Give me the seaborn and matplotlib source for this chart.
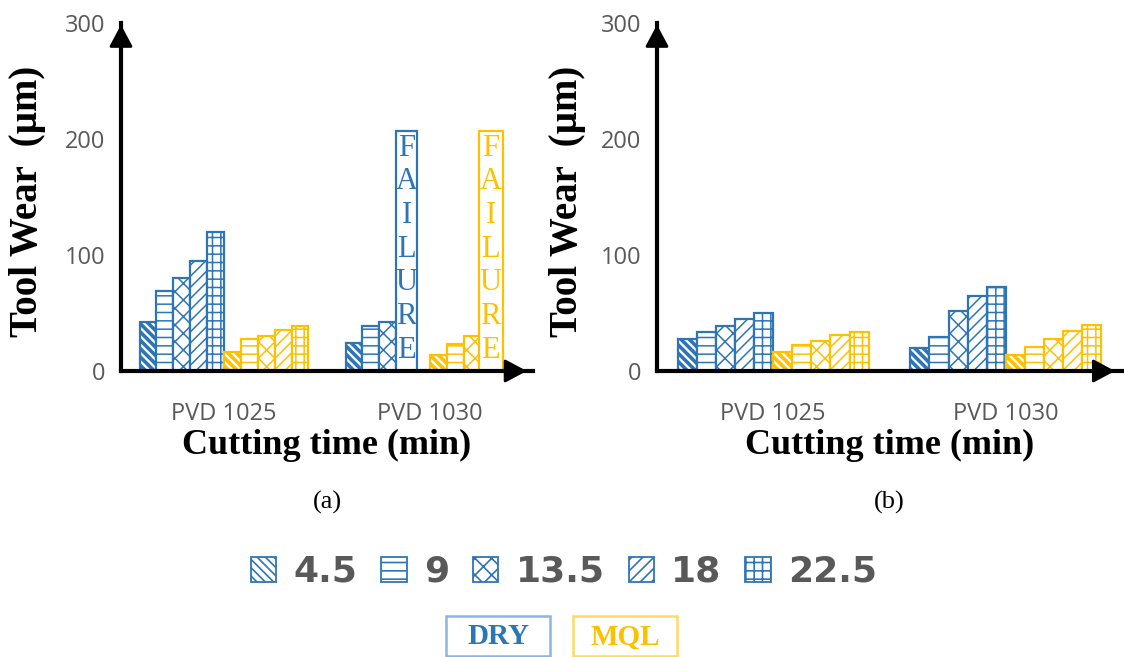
import numpy as np
import pandas as pd
import matplotlib
matplotlib.use("Agg")
import matplotlib.pyplot as plt
import seaborn as sns
from matplotlib.patches import Rectangle

# ---------------- data ----------------
tools = ["PVD 1025", "PVD 1030"]
times = ["4.5", "9", "13.5", "18", "22.5"]
conditions = ["DRY", "MQL"]

# panel (a)
a_dry_1025 = [42, 69, 80, 95, 120]
a_mql_1025 = [16, 28, 30, 35, 39]
a_dry_1030 = [24, 39, 42, 207, np.nan]
a_mql_1030 = [14, 23, 30, 207, np.nan]
a_failures = [("PVD 1030", "DRY", "18"), ("PVD 1030", "MQL", "18")]

# panel (b)
b_dry_1025 = [28, 34, 38.5, 45, 50]
b_mql_1025 = [16, 22.5, 26, 31, 34]
b_dry_1030 = [20, 29, 52, 65, 72]
b_mql_1030 = [14, 21, 27.5, 34.5, 40]
b_failures = []

failure_text = "FAILURE"
yticks = [0, 100, 200, 300]

BLUE = "#2E75B6"
YELLOW = "#FFC000"
GRAY = "#595959"
hatches = ["\\\\\\\\", "--", "xx", "///", "++"]

hue_order = [f"{c} {t}" for c in conditions for t in times]
palette = {h: (BLUE if h.startswith("DRY") else YELLOW) for h in hue_order}


def make_df(dry_1025, mql_1025, dry_1030, mql_1030):
    rows = []
    for tool, cond, vals in [("PVD 1025", "DRY", dry_1025), ("PVD 1025", "MQL", mql_1025),
                             ("PVD 1030", "DRY", dry_1030), ("PVD 1030", "MQL", mql_1030)]:
        for t, v in zip(times, vals):
            if not np.isnan(v):
                rows.append({"tool": tool, "series": f"{cond} {t}", "cond": cond,
                             "time": t, "wear": v})
    return pd.DataFrame(rows)


df_a = make_df(a_dry_1025, a_mql_1025, a_dry_1030, a_mql_1030)
df_b = make_df(b_dry_1025, b_mql_1025, b_dry_1030, b_mql_1030)

sns.set_style("white")
plt.rcParams["font.family"] = ["DejaVu Sans"]
plt.rcParams["hatch.linewidth"] = 1.2
plt.rcParams["text.color"] = "black"
plt.rcParams["axes.labelcolor"] = "black"

fig = plt.figure(figsize=(11.24, 6.57), dpi=100)
W, H = 1124, 657


def px_axes(l, r, t, b):
    return fig.add_axes([l / W, 1 - b / H, (r - l) / W, (b - t) / H])


ax_a = px_axes(121, 533, 23, 371)
ax_b = px_axes(657, 1122, 23, 371)

BAR_W = 0.82
serif = "Liberation Serif"
ARROW = dict(arrowstyle="-|>,head_length=0.75,head_width=0.4", color="black",
             lw=2.0, mutation_scale=18, shrinkA=0, shrinkB=0)


def draw_panel(ax, df, failures, tag, ylabel_x):
    sns.barplot(data=df, x="tool", y="wear", hue="series", order=tools,
                hue_order=hue_order, palette=palette, width=BAR_W, errorbar=None,
                legend=False, saturation=1, ax=ax)
    w = BAR_W / len(hue_order)
    for cont in ax.containers:
        for bar in cont:
            h = bar.get_height()
            if h is None or np.isnan(h):
                continue
            cx = bar.get_x() + bar.get_width() / 2
            ci = int(round(cx))
            k = int(round((cx - ci + BAR_W / 2 - w / 2) / w))
            series = hue_order[k]
            cond, t = series.split(" ")
            color = palette[series]
            bar.set_facecolor("white")
            bar.set_edgecolor(color)
            bar.set_linewidth(1.6)
            if (tools[ci], cond, t) in failures:
                bar.set_hatch("")
                extra = 0.02 if cond == "DRY" else 0.035
                bar.set_x(bar.get_x() - (0.0 if cond == "DRY" else 0.01))
                bar.set_width(bar.get_width() + extra)
                xc = bar.get_x() + bar.get_width() / 2
                for i, ch in enumerate(failure_text):
                    ax.text(xc, 192 - i * 29, ch, ha="center", va="center",
                            fontsize=22, family=serif, color=color)
            else:
                bar.set_hatch(hatches[times.index(t)])
                if hasattr(bar, "set_hatch_linewidth"):
                    bar.set_hatch_linewidth(2.6 if t == "4.5" else 1.1)

    ax.set_xlim(-0.5, 1.5)
    ax.set_ylim(0, 300)
    ax.set_yticks(yticks)
    ax.set_xticks([0, 1], tools)
    ax.set_xticks([-0.5, 0.5, 1.5], minor=True)
    for s in ["top", "right"]:
        ax.spines[s].set_visible(False)
    for s in ["left", "bottom"]:
        ax.spines[s].set_linewidth(3)
        ax.spines[s].set_color("black")
    ax.tick_params(axis="y", direction="inout", length=15, width=3, color="black",
                   labelcolor=GRAY, labelsize=17, pad=4)
    ax.tick_params(axis="x", which="major", length=0, labelcolor=GRAY,
                   labelsize=17, pad=22)
    ax.tick_params(axis="x", which="minor", direction="inout", length=15, width=3,
                   color="black")
    for lab in ax.get_xticklabels() + ax.get_yticklabels():
        lab.set_family("Open Sans")

    # arrows
    ax.annotate("", xy=(0, 0.995), xytext=(0, 0.85), xycoords="axes fraction",
                arrowprops=ARROW, annotation_clip=False)
    ax.annotate("", xy=(0.985, 0), xytext=(0.85, 0), xycoords="axes fraction",
                arrowprops=ARROW, annotation_clip=False)

    ax.set_ylabel("Tool Wear  (µm)", fontsize=28, fontweight="bold", family=serif,
                  color="black")
    ax.yaxis.set_label_coords(ylabel_x, 0.486)
    ax.yaxis.label.set_va("center")
    ax.set_xlabel("Cutting time (min)", fontsize=26, fontweight="bold", family=serif,
                  color="black")
    ax.xaxis.set_label_coords(0.5, -0.213)
    ax.xaxis.label.set_va("center")
    ax.text(0.5, -0.379, tag, transform=ax.transAxes, ha="center", va="center",
            fontsize=19, family=serif, color="black")


draw_panel(ax_a, df_a, a_failures, "(a)", (28 - 121) / 412)
draw_panel(ax_b, df_b, b_failures, "(b)", (568 - 657) / 465)

# legend: cutting times
handles = [Rectangle((0, 0), 1, 1, facecolor="white", edgecolor=BLUE, hatch=h, lw=1.3)
           for h in hatches]
fig.legend(handles, times, loc="center", bbox_to_anchor=(564 / W, 1 - 572 / H),
           ncol=5, frameon=False, handlelength=0.7, handleheight=0.7,
           handletextpad=0.48, columnspacing=0.66, borderpad=0,
           prop=dict(family="DejaVu Sans", weight="bold", size=26), labelcolor=GRAY)

# legend: conditions
for label, color, edge, x0, x1 in [("DRY", BLUE, "#8DB4E2", 446, 550),
                                   ("MQL", YELLOW, "#FFD966", 573, 677)]:
    fig.add_artist(Rectangle((x0 / W, 1 - 656 / H), (x1 - x0) / W, 40 / H,
                             transform=fig.transFigure, facecolor="white",
                             edgecolor=edge, lw=1.8))
    fig.text((x0 + x1) / 2 / W, 1 - 637 / H, label, ha="center", va="center",
             fontsize=21, fontweight="bold", family=serif, color=color)

fig.savefig("out.png", dpi=100)
